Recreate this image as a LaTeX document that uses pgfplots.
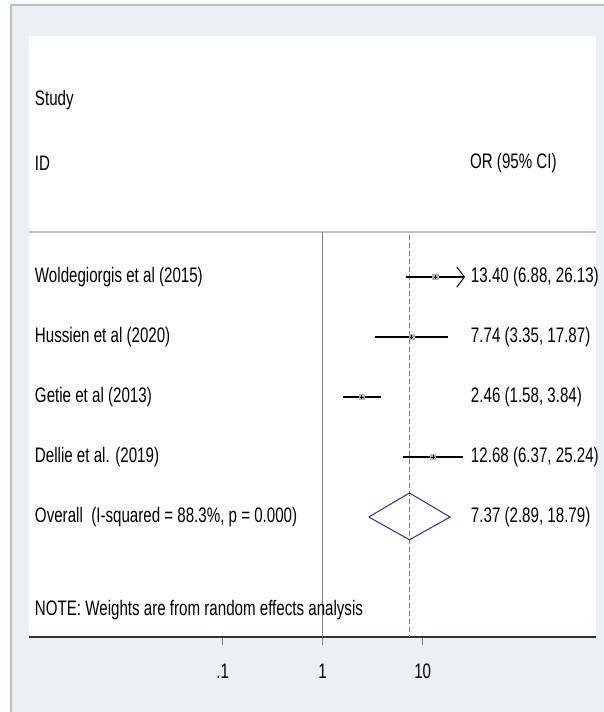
\documentclass[border=0pt]{standalone}
\usepackage{fontspec}
\setmainfont[FakeStretch=0.72]{Liberation Sans}
\usepackage{pgfplots}
\pgfplotsset{compat=1.18}

\definecolor{bgblue}{RGB}{233,241,243}
\definecolor{framegray}{RGB}{190,190,190}
\definecolor{diamondblue}{RGB}{45,45,150}
\definecolor{refred}{RGB}{195,95,95}

% study estimates: row, OR, lower, upper
\pgfplotstableread{
row or lo hi
1 13.40 6.88 26.13
2 7.74 3.35 17.87
3 2.46 1.58 3.84
4 12.68 6.37 25.24
}\studies

\newcommand{\lbl}{\fontsize{10.5}{12.6}\selectfont}
\def\xlo{0.001156}
\def\xhi{541}
\tikzset{txt/.style={anchor=west, inner sep=0pt, outer sep=0pt, font=\lbl}}

\begin{document}
\begin{tikzpicture}[x=1pt,y=1pt]
\fill[white] (0,0) rectangle (302,356);
\useasboundingbox (0,0) rectangle (302,356);
\begin{scope}
  \clip (0,0) rectangle (302,356);
  \filldraw[fill=bgblue, draw=framegray, line width=0.6pt] (5.5,-10) rectangle (320,353.5);
\end{scope}
\begin{axis}[
  at={(14.5pt,37.5pt)}, anchor=south west,
  width=283.5pt, height=300.5pt, scale only axis,
  xmode=log, xmin=\xlo, xmax=\xhi,
  ymin=-3.017, ymax=7, y dir=reverse,
  axis x line=bottom, axis y line=none,
  axis line style={-, black!80, line width=0.6pt},
  axis background/.style={fill=white},
  xtick={0.1,1,10}, xticklabels={.1,1,10},
  minor xtick={}, log basis x=10,
  xtick style={gray, line width=0.6pt},
  tick align=outside, major tick length=4pt,
  xticklabel style={font=\lbl, yshift=-6pt},
  /pgf/number format/assume math mode=true,
  ytick=\empty,
  clip=false,
]
% header separator, null line and overall estimate line
\draw[framegray, line width=0.6pt] (axis cs:\xlo,0.25) -- (axis cs:\xhi,0.25);
\draw[gray, line width=0.6pt] (axis cs:1,0.25) -- (axis cs:1,7);
\addplot[refred, line width=0.5pt, dash pattern=on 2.5pt off 1.5pt] coordinates {(7.37,0.3) (7.37,7)};

% confidence intervals
\addplot[black, line width=1.4pt] coordinates {(6.88,1) (26.13,1)};
\addplot[black, line width=0.5pt] coordinates {(21.9,0.83) (26.13,1) (21.9,1.17)};
\addplot[black, line width=1.4pt] coordinates {(3.35,2) (17.87,2)};
\addplot[black, line width=1.4pt] coordinates {(1.58,3) (3.84,3)};
\addplot[black, line width=1.4pt] coordinates {(6.37,4) (25.24,4)};

% weight boxes and point estimates
\addplot[only marks, mark=square*, mark size=1.3pt, mark options={fill=gray!60, draw=gray!60}] table[x=or, y=row] {\studies};
\addplot[only marks, mark=+, mark size=0.9pt, mark options={black, line width=0.5pt}] table[x=or, y=row] {\studies};

% pooled estimate
\addplot[diamondblue, line width=0.5pt] coordinates {(2.89,5) (7.37,4.6) (18.79,5) (7.37,5.38) (2.89,5)};

% text columns
\node[txt] at (axis cs:0.001327,-1.95) {Study};
\node[txt] at (axis cs:0.001327,-0.9) {ID};
\node[txt] at (axis cs:29.8,-0.9) {OR (95\% CI)};

\node[txt] at (axis cs:0.001327,1) {Woldegiorgis et al (2015)};
\node[txt] at (axis cs:0.001327,2) {Hussien et al (2020)};
\node[txt] at (axis cs:0.001327,3) {Getie et al (2013)};
\node[txt] at (axis cs:0.001327,4) {Dellie et al. (2019)};
\node[txt] at (axis cs:0.001327,5) {Overall\ \ (I-squared = 88.3\%, p = 0.000)};

\node[txt] at (axis cs:30.41,1) {13.40 (6.88, 26.13)};
\node[txt] at (axis cs:30.41,2) {7.74 (3.35, 17.87)};
\node[txt] at (axis cs:30.41,3) {2.46 (1.58, 3.84)};
\node[txt] at (axis cs:30.41,4) {12.68 (6.37, 25.24)};
\node[txt] at (axis cs:30.41,5) {7.37 (2.89, 18.79)};

\node[txt] at (axis cs:0.001327,6.55) {NOTE: Weights are from random effects analysis};
\end{axis}
\end{tikzpicture}
\end{document}
